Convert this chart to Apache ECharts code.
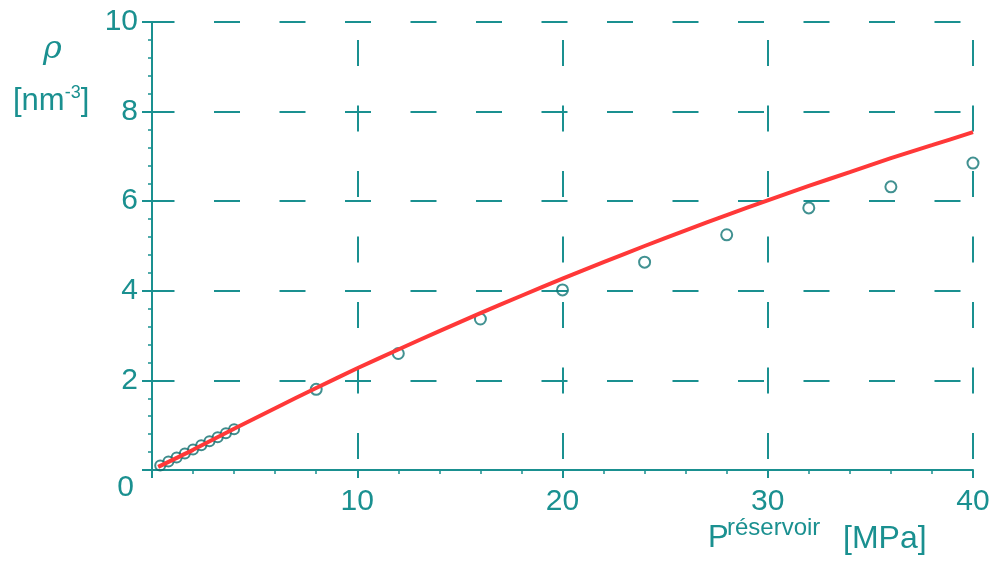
<!DOCTYPE html>
<html>
<head>
<meta charset="utf-8">
<script src="https://cdn.jsdelivr.net/npm/echarts@6/dist/echarts.min.js"></script>
<style>
html,body{margin:0;padding:0;background:#fff;}
#c{width:993px;height:565px;}
</style>
</head>
<body>
<div id="c"></div>
<script>
// Data
var clusterX = [0.4, 0.8, 1.2, 1.6, 2.0, 2.4, 2.8, 3.2, 3.6, 4.0];
var clusterY = [0.10, 0.19, 0.28, 0.37, 0.46, 0.55, 0.64, 0.73, 0.82, 0.91];
var pointX = [8, 12, 16, 20, 24, 28, 32, 36, 40];
var pointY = [1.80, 2.60, 3.37, 4.02, 4.64, 5.25, 5.85, 6.32, 6.85];
var curveX = [0.3, 2, 4, 6, 8, 10, 12, 14, 16, 18, 20, 22, 24, 26, 28, 30, 32, 34, 36, 38, 40];
var curveY = [0.07, 0.45, 0.92, 1.38, 1.83, 2.27, 2.69, 3.10, 3.50, 3.89, 4.27, 4.64, 5.00, 5.35, 5.69, 6.02, 6.34, 6.65, 6.96, 7.25, 7.54];
var xTicks = [0, 10, 20, 30, 40];
var yTicks = [0, 2, 4, 6, 8, 10];

var teal = '#1a9090';
var red = '#ff3838';
var font = 'Liberation Sans';

function pairs(xs, ys) { return xs.map(function (x, i) { return [x, ys[i]]; }); }

var chart = echarts.init(document.getElementById('c'), null, {renderer: 'canvas'});
chart.setOption({
  backgroundColor: '#ffffff',
  animation: false,
  grid: {left: 152, right: 20, top: 22, bottom: 95, containLabel: false},
  xAxis: {
    type: 'value', min: xTicks[0], max: xTicks[xTicks.length - 1], interval: 10,
    axisLine: {show: true, onZero: false, lineStyle: {color: teal, width: 2}},
    axisTick: {show: true, inside: false, length: 8, lineStyle: {color: teal, width: 2}},
    minorTick: {show: true, splitNumber: 5, length: 4, lineStyle: {color: teal, width: 1.5}},
    axisLabel: {
      color: teal, fontFamily: font, fontSize: 30, margin: 17,
      formatter: function (v) { return v === 0 ? '' : String(v); }
    },
    splitLine: {show: true, lineStyle: {color: teal, width: 2, type: [26, 39.5], dashOffset: 47.5}}
  },
  yAxis: {
    type: 'value', min: yTicks[0], max: yTicks[yTicks.length - 1], interval: 2,
    axisLine: {show: true, onZero: false, lineStyle: {color: teal, width: 2}},
    axisTick: {show: true, inside: false, length: 10, lineStyle: {color: teal, width: 2}},
    minorTick: {show: true, splitNumber: 5, length: 4, lineStyle: {color: teal, width: 1.5}},
    axisLabel: {
      color: teal, fontFamily: font, fontSize: 30, margin: 14,
      formatter: function (v) { return v === 0 ? '{z|0}' : String(v); },
      rich: {z: {color: teal, fontFamily: font, fontSize: 30, padding: [36, 4, 0, 0]}}
    },
    splitLine: {show: true, lineStyle: {color: teal, width: 2, type: [26, 39.5], dashOffset: 3.5}}
  },
  series: [
    {
      type: 'scatter', data: pairs(clusterX, clusterY), symbol: 'circle', symbolSize: 10, z: 3,
      itemStyle: {color: 'rgba(255,255,255,0)', borderColor: '#0f6e6e', borderWidth: 2}
    },
    {
      type: 'scatter', data: pairs(pointX, pointY), symbol: 'circle', symbolSize: 11, z: 3,
      itemStyle: {color: 'rgba(255,255,255,0)', borderColor: '#117676', borderWidth: 2}
    },
    {
      type: 'line', data: pairs(curveX, curveY), smooth: 0.3, showSymbol: false, z: 5,
      lineStyle: {color: red, width: 4}
    }
  ],
  graphic: [
    {type: 'text', left: 43, top: 34, style: {text: 'ρ', font: 'italic 32px "DejaVu Serif"', fill: teal}},
    {type: 'text', left: 13, top: 84, style: {
      text: '[nm{s|-3}]',
      rich: {s: {fontSize: 18, fontFamily: font, fill: teal, padding: [0, 0, 16, 0]}},
      font: '31px "Liberation Sans"', fill: teal}},
    {type: 'text', left: 708, top: 523, style: {text: 'P', font: '31px "Liberation Sans"', fill: teal}},
    {type: 'text', left: 727, top: 516, style: {text: 'réservoir', font: '24px "Liberation Sans"', fill: teal}},
    {type: 'text', left: 843, top: 523, style: {text: '[MPa]', font: '32px "Liberation Sans"', fill: teal}}
  ]
});
</script>
</body>
</html>
